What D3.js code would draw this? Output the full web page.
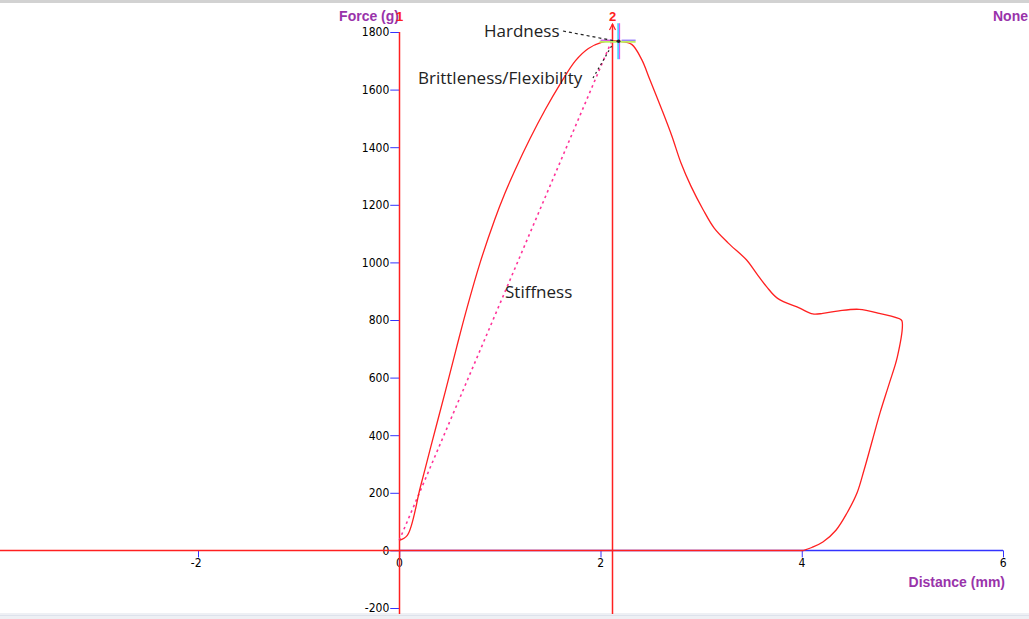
<!DOCTYPE html>
<html>
<head>
<meta charset="utf-8">
<script src="https://cdn.jsdelivr.net/npm/d3@7"></script>
<style>
  body { margin: 0; background: #fff; }
  svg { display: block; }
</style>
</head>
<body>
<svg id="chart" width="1029" height="619"></svg>
<script>
// force / distance trace
let dist = [0, 0.08, 0.21, 0.31, 0.46, 0.57, 0.66, 0.80, 0.95, 1.05, 1.15, 1.30, 1.45, 1.60, 1.75, 1.88, 2.01, 2.12, 2.19,
            2.31, 2.41, 2.49, 2.61, 2.71, 2.80, 2.90, 3.02, 3.13, 3.27, 3.45, 3.55, 3.65, 3.76, 3.98, 4.11, 4.21, 4.37, 4.57, 4.77, 4.99, 5.00,
            4.95, 4.87, 4.78, 4.70, 4.62, 4.55, 4.45, 4.34, 4.21, 4.10, 4.02];
let force = [35, 52, 220, 355, 555, 705, 825, 995, 1150, 1240, 1320, 1430, 1530, 1620, 1700, 1743, 1764, 1770, 1768,
             1757, 1704, 1635, 1530, 1438, 1345, 1264, 1183, 1119, 1067, 1009, 962, 916, 875, 841, 821, 823, 832, 837, 823, 800, 788,
             672, 580, 480, 380, 280, 200, 130, 70, 29, 10, 0];

let baseDist = [-4, 4.02],
    baseForce = [0, 0];

let yTicks = [-200, 0, 200, 400, 600, 800, 1000, 1200, 1400, 1600, 1800],
    xTicks = [-2, 0, 2, 4, 6];

let cursorDist = [0, 2.11],
    cursorLabel = ["1", "2"];

let peak = [2.18, 1768],
    stiffStart = [0, 35];

let svg = d3.select("#chart");

let x = d3.scaleLinear().domain([-2, 6]).range([198, 1003]),
    y = d3.scaleLinear().domain([-200, 1800]).range([608, 32]);

let purple = "#9933aa", blue = "#3333ff", red = "#ff2020";
let tickFont = "'Liberation Sans Narrow', 'DejaVu Sans Condensed', sans-serif";

// window frame bits
svg.append("rect").attr("x", 0).attr("y", 0).attr("width", 1029).attr("height", 3).attr("fill", "#d2d2d2");
svg.append("rect").attr("x", 0).attr("y", 613).attr("width", 1029).attr("height", 6).attr("fill", "#eef0f4");
svg.append("line").attr("x1", 0).attr("x2", 1029).attr("y1", 615.5).attr("y2", 615.5).attr("stroke", "#dde2ec");

// axes
let yAxis = svg.append("g")
    .attr("transform", "translate(" + x(0) + ",0)")
    .call(d3.axisLeft(y).tickValues(yTicks).tickSize(9).tickPadding(1).tickFormat(function(d) { return String(d); }));
yAxis.select(".domain").remove();
yAxis.selectAll("line").attr("stroke", blue);
yAxis.selectAll("text").attr("fill", "#000").style("font-family", tickFont).style("font-size", "12px");

let xAxis = svg.append("g")
    .attr("transform", "translate(0," + y(0) + ")")
    .call(d3.axisBottom(x).tickValues(xTicks).tickSize(7).tickPadding(1).tickFormat(function(d) { return String(d); }));
xAxis.select(".domain").remove();
xAxis.selectAll("line").attr("stroke", blue);
xAxis.selectAll("text").attr("fill", "#000").attr("text-anchor", "end").attr("dx", "3")
    .style("font-family", tickFont).style("font-size", "12px");

svg.append("line")
    .attr("x1", x(0)).attr("x2", x(6)).attr("y1", y(0)).attr("y2", y(0))
    .attr("stroke", blue).attr("stroke-width", 1.5);

// axis titles
svg.append("text").attr("x", 399).attr("y", 21).attr("text-anchor", "end")
    .attr("fill", purple).style("font", "bold 14px 'Liberation Sans', Arial, sans-serif").text("Force (g)");
svg.append("text").attr("x", 1028).attr("y", 21).attr("text-anchor", "end")
    .attr("fill", purple).style("font", "bold 14px 'Liberation Sans', Arial, sans-serif").text("None");
svg.append("text").attr("x", 1005).attr("y", 587).attr("text-anchor", "end")
    .attr("fill", purple).style("font", "bold 14px 'Liberation Sans', Arial, sans-serif").text("Distance (mm)");

// cursors
svg.selectAll(".cursor")
  .data(cursorDist)
  .enter().append("line")
    .attr("class", "cursor")
    .attr("x1", function(d) { return Math.round(x(d)) + 0.5; })
    .attr("x2", function(d) { return Math.round(x(d)) + 0.5; })
    .attr("y1", function(d, i) { return i === 0 ? y(1800) : 24; })
    .attr("y2", 614)
    .attr("stroke", red).attr("stroke-width", 1.5);

svg.selectAll(".cursorLabel")
  .data(cursorDist)
  .enter().append("text")
    .attr("class", "cursorLabel")
    .attr("x", function(d) { return Math.round(x(d)) + 0.5; })
    .attr("y", 21)
    .attr("text-anchor", "middle")
    .attr("fill", red)
    .style("font", "bold 13px 'Liberation Sans', Arial, sans-serif")
    .text(function(d, i) { return cursorLabel[i]; });

let cx2 = Math.round(x(cursorDist[1])) + 0.5;
svg.append("path")
    .attr("d", "M" + (cx2 - 3) + ",30 L" + cx2 + ",24 L" + (cx2 + 3) + ",30")
    .attr("fill", "none").attr("stroke", red).attr("stroke-width", 1.2);

// baseline of the trace
let line = d3.line().x(function(d) { return x(d[0]); }).y(function(d) { return y(d[1]); });
svg.append("path")
    .datum(d3.zip(baseDist, baseForce))
    .attr("d", line)
    .attr("fill", "none").attr("stroke", red).attr("stroke-width", 1.5);

// stiffness line
svg.append("path")
    .datum([stiffStart, [2.11, 1768]])
    .attr("d", line)
    .attr("fill", "none").attr("stroke", "#ff3399").attr("stroke-width", 1.6)
    .attr("stroke-dasharray", "2.5,3.5");

// trace
svg.append("path")
    .datum(d3.zip(dist, force))
    .attr("d", line.curve(d3.curveCatmullRom.alpha(0.5)))
    .attr("fill", "none").attr("stroke", red).attr("stroke-width", 1.3);

// peak crosshair
let px = x(peak[0]), py = y(peak[1]);
svg.append("line").attr("x1", px - 19).attr("x2", px + 17).attr("y1", py + 0.5).attr("y2", py + 0.5)
    .attr("stroke", "#bdf060").attr("stroke-width", 2);
svg.append("line").attr("x1", px - 18).attr("x2", px - 6).attr("y1", py - 1).attr("y2", py - 1)
    .attr("stroke", "#cc44ee").attr("stroke-width", 1.2);
svg.append("line").attr("x1", px + 3).attr("x2", px + 17).attr("y1", py - 1).attr("y2", py - 1)
    .attr("stroke", "#8866ff").attr("stroke-width", 1.2);
svg.append("line").attr("x1", px - 0.5).attr("x2", px - 0.5).attr("y1", py - 18).attr("y2", py + 18)
    .attr("stroke", "#33ccff").attr("stroke-width", 1.5);
svg.append("line").attr("x1", px + 1).attr("x2", px + 1).attr("y1", py - 18).attr("y2", py + 18)
    .attr("stroke", "#dd44ee").attr("stroke-width", 1);
svg.append("circle").attr("cx", px).attr("cy", py).attr("r", 1.8).attr("fill", "#222");

// annotations
let noteFont = "17px 'Open Sans', 'Noto Sans', sans-serif";
svg.append("text").attr("x", 484).attr("y", 37).attr("fill", "#222").style("font", noteFont).text("Hardness");
svg.append("text").attr("x", 418).attr("y", 84).attr("fill", "#222").style("font", noteFont).text("Brittleness/Flexibility");
svg.append("text").attr("x", 505).attr("y", 298).attr("fill", "#222").style("font", noteFont).text("Stiffness");

svg.append("line").attr("x1", 563).attr("y1", 31).attr("x2", px - 2).attr("y2", py)
    .attr("stroke", "#222").attr("stroke-width", 1.2).attr("stroke-dasharray", "3,3");
svg.append("line").attr("x1", 593).attr("y1", 78).attr("x2", px - 6).attr("y2", py + 3)
    .attr("stroke", "#222").attr("stroke-width", 1.2).attr("stroke-dasharray", "2,3");
</script>
</body>
</html>
